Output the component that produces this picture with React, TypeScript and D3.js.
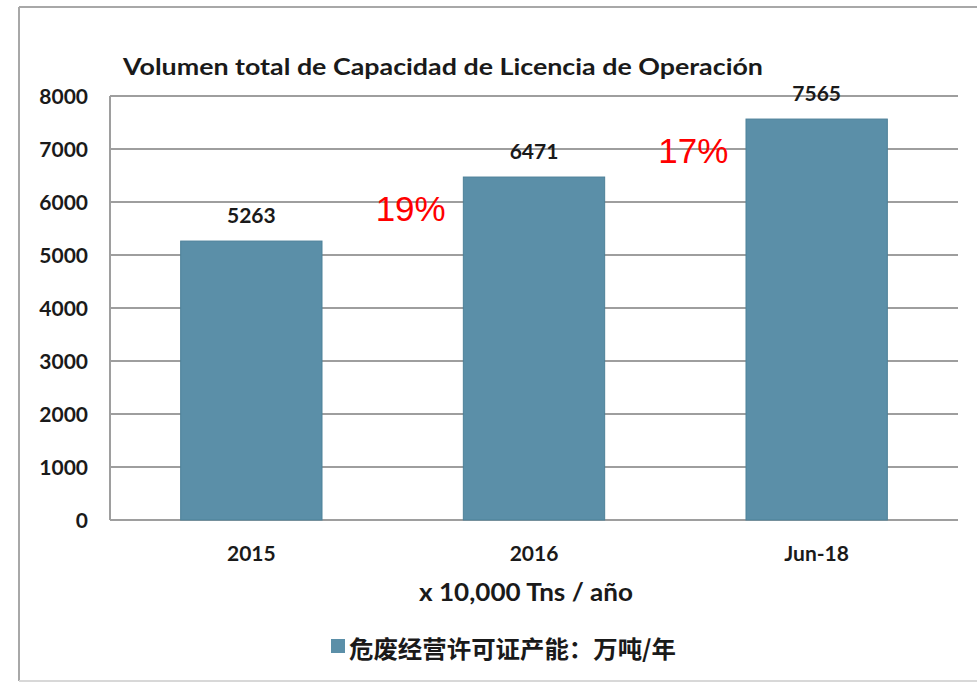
import React from "react";
import * as d3 from "d3";

const categories = ["2015", "2016", "Jun-18"];
const values = [5263, 6471, 7565];
const yTicks = [0, 1000, 2000, 3000, 4000, 5000, 6000, 7000, 8000];
const growthLabels = ["19%", "17%"];
const title = "Volumen total de Capacidad de Licencia de Operación";
const axisTitle = "x 10,000 Tns / año";
const legendLabel = "危废经营许可证产能：万吨/年";

const W = 977;
const H = 683;
const plot = { left: 110, right: 958, top: 96, bottom: 520 };
const barColor = "#5b8fa8";
const font = "Lato, 'Open Sans', sans-serif";

export default function App() {
  const x = d3
    .scaleBand<string>()
    .domain(categories)
    .range([plot.left, plot.right])
    .paddingInner(0.5)
    .paddingOuter(0.25);
  const y = d3.scaleLinear().domain([0, 8000]).range([plot.bottom, plot.top]);

  return (
    <svg
      width={W}
      height={H}
      style={{ position: "absolute", left: 0, top: 0, background: "#fff" }}
    >
      {/* frame */}
      <line x1={19} x2={W} y1={7} y2={7} stroke="#a8a8a8" strokeWidth={2} />
      <line x1={19} x2={19} y1={7} y2={681} stroke="#a8a8a8" strokeWidth={2} />
      <line x1={19} x2={W} y1={681} y2={681} stroke="#d8d8d8" strokeWidth={2} />

      <text
        x={123}
        y={75}
        fontFamily={font}
        fontWeight="bold"
        fontSize={23}
        fill="#1a1a1a"
        textLength={640}
        lengthAdjust="spacingAndGlyphs"
      >
        {title}
      </text>

      {/* gridlines and y ticks */}
      {yTicks.map((t) => (
        <g key={t}>
          <line
            x1={plot.left}
            x2={plot.right}
            y1={y(t)}
            y2={y(t)}
            stroke="#9e9e9e"
            strokeWidth={2}
          />
          <text
            x={88}
            y={y(t) + 8}
            textAnchor="end"
            fontFamily={font}
            fontWeight="bold"
            fontSize={21}
            fill="#1a1a1a"
          >
            {t}
          </text>
        </g>
      ))}
      <line
        x1={plot.left}
        x2={plot.left}
        y1={plot.top}
        y2={plot.bottom}
        stroke="#9e9e9e"
        strokeWidth={2}
      />

      {/* bars */}
      {categories.map((c, i) => (
        <g key={c}>
          <rect
            x={x(c)!}
            y={y(values[i])}
            width={x.bandwidth()}
            height={y(0) - y(values[i])}
            fill={barColor}
            stroke="#4d8199"
            strokeWidth={1}
          />
          <text
            x={x(c)! + x.bandwidth() / 2}
            y={y(values[i]) - 18}
            textAnchor="middle"
            fontFamily={font}
            fontWeight="bold"
            fontSize={21}
            fill="#1a1a1a"
          >
            {values[i]}
          </text>
          <text
            x={x(c)! + x.bandwidth() / 2}
            y={561}
            textAnchor="middle"
            fontFamily={font}
            fontWeight="bold"
            fontSize={21}
            fill="#1a1a1a"
          >
            {c}
          </text>
        </g>
      ))}

      {/* growth annotations */}
      {growthLabels.map((g, i) => {
        const cx = (x(categories[i])! + x.bandwidth() + x(categories[i + 1])!) / 2;
        return (
          <text
            key={g}
            x={cx + 18}
            y={y(values[i + 1]) + 44}
            textAnchor="middle"
            fontFamily="'Liberation Sans', Arial, sans-serif"
            fontSize={35}
            fill="#ff0000"
          >
            {g}
          </text>
        );
      })}

      <text
        x={526}
        y={601}
        textAnchor="middle"
        fontFamily={font}
        fontWeight="bold"
        fontSize={24}
        fill="#1a1a1a"
        textLength={214}
        lengthAdjust="spacingAndGlyphs"
      >
        {axisTitle}
      </text>

      {/* legend */}
      <rect x={331} y={639} width={14} height={14} fill={barColor} />
      <text
        x={349}
        y={658}
        fontFamily="'Noto Sans CJK SC', sans-serif"
        fontWeight="bold"
        fontSize={24}
        fill="#1a1a1a"
        textLength={327}
        lengthAdjust="spacingAndGlyphs"
      >
        {legendLabel}
      </text>
    </svg>
  );
}
